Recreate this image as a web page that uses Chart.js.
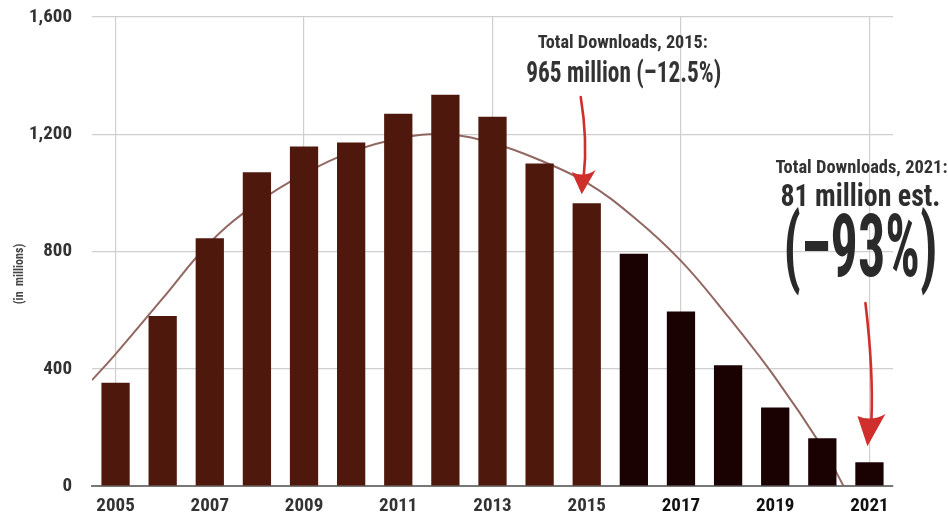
<!DOCTYPE html>
<html>
<head>
<meta charset="utf-8">
<script src="https://cdn.jsdelivr.net/npm/chart.js@4.4.1/dist/chart.umd.min.js"></script>
<style>
html,body{margin:0;padding:0;background:#fff;}
#wrap{width:948px;height:523px;position:relative;}
</style>
</head>
<body>
<div id="wrap"><canvas id="c" width="948" height="523"></canvas></div>
<script>
const years = ['2005','2006','2007','2008','2009','2010','2011','2012','2013','2014','2015','2016','2017','2018','2019','2020','2021'];
const downloads = [352, 580, 845, 1070, 1158, 1172, 1270, 1335, 1260, 1100, 965, 792, 595, 412, 268, 163, 81];
const trendX = [-0.5, 0, 1, 2, 3, 4, 5, 6, 7, 8, 9, 10, 11, 12, 13, 14, 15, 15.45];
const trendY = [361, 450, 640, 830, 965, 1065, 1140, 1185, 1200, 1170, 1112, 1035, 917, 768, 578, 370, 132, 0];
const yTicks = [0, 400, 800, 1200, 1600];

const FONT = "'Roboto Condensed','Liberation Sans Narrow','Liberation Sans',Arial,sans-serif";
const histColor = '#4f180c';
const projColor = '#1a0202';

const annot = {
  id: 'annot',
  afterDraw(chart) {
    const ctx = chart.ctx;
    const xs = chart.scales.x, ys = chart.scales.y;
    function fitText(t, cx, cy, size, w, color) {
      ctx.save();
      ctx.font = 'bold ' + size + 'px ' + FONT;
      const m = ctx.measureText(t).width;
      ctx.translate(cx, cy);
      ctx.scale(w / m, 1);
      ctx.fillStyle = color;
      ctx.textAlign = 'center';
      ctx.textBaseline = 'middle';
      ctx.fillText(t, 0, 0);
      ctx.restore();
    }
    function arrow(x0, y0, cxp, cyp, x1, y1, tipX, tipY, hw) {
      ctx.save();
      ctx.strokeStyle = '#d0302b';
      ctx.fillStyle = '#d0302b';
      ctx.lineWidth = 2.6;
      ctx.lineCap = 'round';
      ctx.beginPath();
      ctx.moveTo(x0, y0);
      ctx.quadraticCurveTo(cxp, cyp, x1, y1);
      ctx.stroke();
      ctx.beginPath();
      ctx.moveTo(tipX, tipY);
      ctx.lineTo(x1 - hw, y1 - 4);
      ctx.quadraticCurveTo(x1, y1 + 2, x1 + hw, y1 - 6);
      ctx.closePath();
      ctx.fill();
      ctx.restore();
    }
    // 2015 annotation
    const x15 = xs.getPixelForValue(10), y15 = ys.getPixelForValue(downloads[10]);
    fitText('Total Downloads, 2015:', x15 + 36, 43, 19, 170, '#333');
    fitText('965 million (\u201312.5%)', x15 + 37, 75, 29, 195, '#333');
    arrow(x15 - 6, 97, x15 + 1, 140, x15 - 3, 176, x15 - 5, y15 - 9, 12);
    // 2021 annotation
    const x21 = xs.getPixelForValue(16), y21 = ys.getPixelForValue(downloads[16]);
    fitText('Total Downloads, 2021:', x21 - 8, 168, 19, 172, '#333');
    fitText('81 million est.', x21 - 9, 198, 31, 160, '#2e2e2e');
    fitText('(\u201393%)', x21 - 9, 254, 88, 154, '#2a2a2a');
    arrow(x21 - 4, 303, x21 + 4, 370, x21 + 2, 420, x21 - 2, y21 - 16, 14);
    // y label
    ctx.save();
    ctx.translate(20, 274);
    ctx.rotate(-Math.PI / 2);
    ctx.font = 'bold 12px ' + FONT;
    ctx.fillStyle = '#444';
    ctx.textAlign = 'center';
    ctx.textBaseline = 'middle';
    ctx.fillText('(in  millions)', 0, 0);
    ctx.restore();
  }
};

new Chart(document.getElementById('c'), {
  type: 'bar',
  data: {
    labels: years,
    datasets: [
      {
        type: 'bar',
        data: downloads,
        backgroundColor: years.map((y, i) => i <= 10 ? histColor : projColor),
        barPercentage: 0.6,
        categoryPercentage: 1.0,
        grouped: false,
        order: 1,
        xAxisID: 'x', yAxisID: 'y'
      },
      {
        type: 'line',
        data: trendX.map((x, i) => ({x: x, y: trendY[i]})),
        borderColor: 'rgba(140,95,88,0.95)',
        borderWidth: 2,
        pointRadius: 0,
        tension: 0.4,
        fill: false,
        order: 2,
        xAxisID: 'x2', yAxisID: 'y'
      }
    ]
  },
  options: {
    responsive: false,
    animation: false,
    devicePixelRatio: 1,
    layout: { padding: { top: 17, right: 55, left: 0, bottom: 0 } },
    plugins: { legend: { display: false }, tooltip: { enabled: false } },
    scales: {
      x: {
        type: 'category',
        offset: true,
        grid: {
          offset: false,
          drawTicks: false,
          color: (c) => (c.index % 4 === 0) ? '#cfcfcf' : 'rgba(0,0,0,0)',
          lineWidth: 1.2
        },
        border: { display: true, color: '#777', width: 2 },
        ticks: {
          autoSkip: false,
          maxRotation: 0,
          padding: 9,
          callback: function(v, i) { return i % 2 === 0 ? years[i] : ''; },
          color: (c) => c.index >= 12 ? '#111' : '#333',
          font: { family: FONT, size: 19, weight: 'bold' }
        },
        afterFit: (s) => { s.height = 37; s.paddingLeft = 0; s.paddingRight = 0; }
      },
      x2: {
        type: 'linear',
        display: false,
        offset: false,
        grid: { offset: false },
        min: -0.5,
        max: 16.5
      },
      y: {
        min: 0,
        max: 1600,
        afterBuildTicks: (s) => { s.ticks = yTicks.map(v => ({value: v})); },
        grid: { color: '#cfcfcf', lineWidth: 1.2, drawTicks: false },
        border: { display: false },
        ticks: {
          padding: 20,
          color: '#333',
          font: { family: FONT, size: 19, weight: 'bold' },
          callback: (v) => v.toLocaleString('en-US')
        },
        afterFit: (s) => { s.width = 92; s.paddingTop = 0; s.paddingBottom = 0; }
      }
    }
  },
  plugins: [annot]
});
</script>
</body>
</html>
